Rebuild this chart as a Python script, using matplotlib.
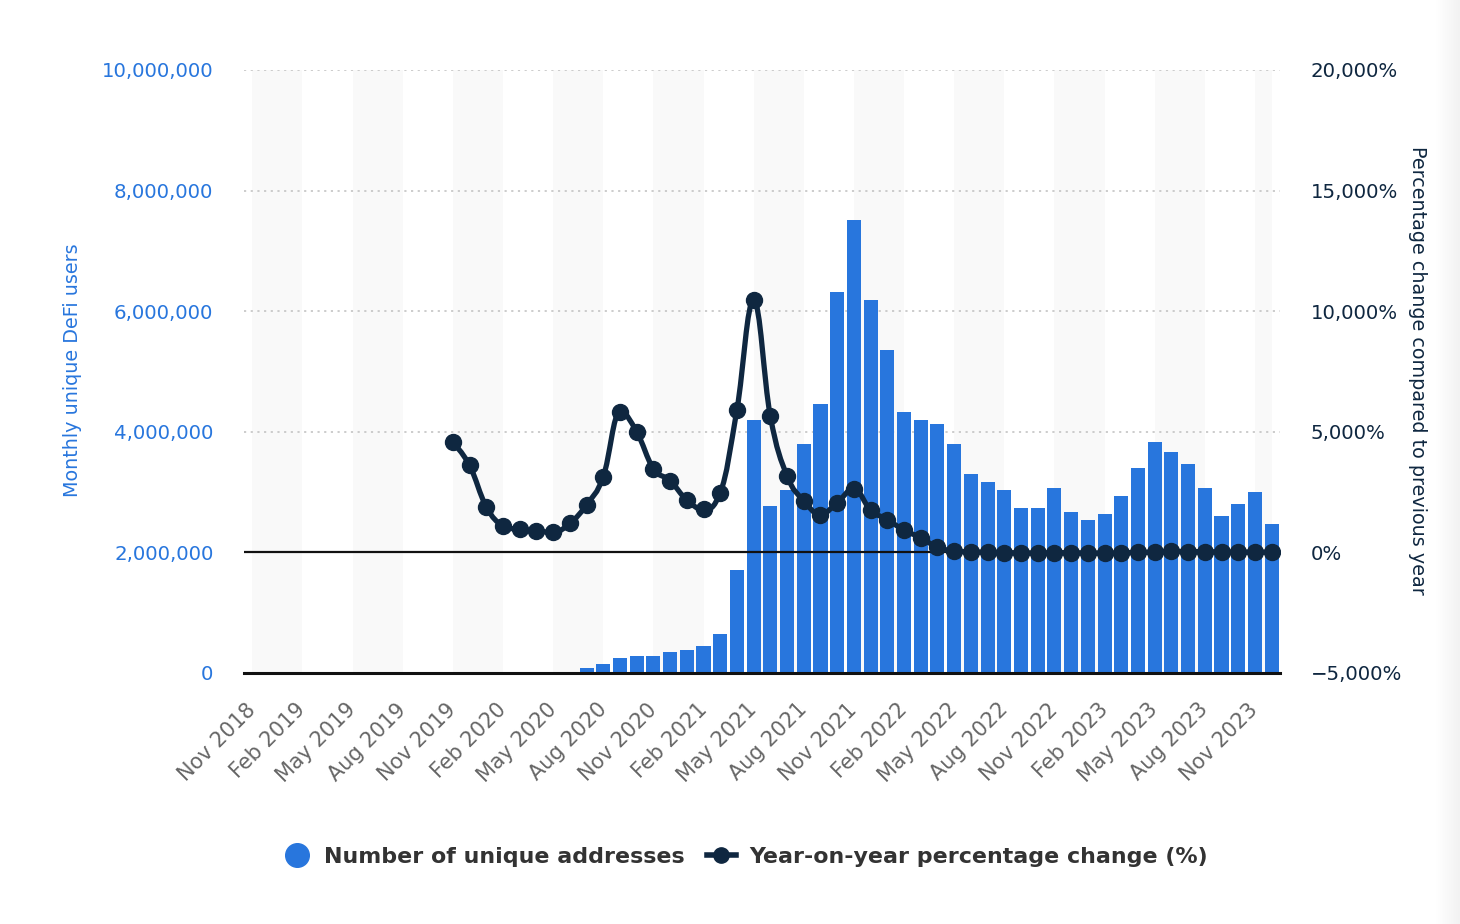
import matplotlib
matplotlib.use("Agg")
import matplotlib.pyplot as plt
import matplotlib.transforms as mtransforms
from matplotlib.path import Path
from matplotlib.patches import PathPatch
from matplotlib.lines import Line2D
from matplotlib.ticker import FuncFormatter, FixedLocator
import numpy as np

# ---------------- data ----------------
months = ["Nov 2018", "Dec 2018", "Jan 2019", "Feb 2019", "Mar 2019", "Apr 2019", "May 2019", "Jun 2019",
          "Jul 2019", "Aug 2019", "Sep 2019", "Oct 2019", "Nov 2019", "Dec 2019", "Jan 2020", "Feb 2020",
          "Mar 2020", "Apr 2020", "May 2020", "Jun 2020", "Jul 2020", "Aug 2020", "Sep 2020", "Oct 2020",
          "Nov 2020", "Dec 2020", "Jan 2021", "Feb 2021", "Mar 2021", "Apr 2021", "May 2021", "Jun 2021",
          "Jul 2021", "Aug 2021", "Sep 2021", "Oct 2021", "Nov 2021", "Dec 2021", "Jan 2022", "Feb 2022",
          "Mar 2022", "Apr 2022", "May 2022", "Jun 2022", "Jul 2022", "Aug 2022", "Sep 2022", "Oct 2022",
          "Nov 2022", "Dec 2022", "Jan 2023", "Feb 2023", "Mar 2023", "Apr 2023", "May 2023", "Jun 2023",
          "Jul 2023", "Aug 2023", "Sep 2023", "Oct 2023", "Nov 2023", "Dec 2023"]

unique_addresses = [0, 0, 0, 0, 0, 0, 0, 0,
                    0, 0, 0, 0, 0, 0, 0, 0,
                    0, 0, 0, 0, 83000, 150000, 250000, 280000,
                    280000, 350000, 380000, 450000, 650000, 1710000, 4200000, 2770000,
                    3035000, 3800000, 4460000, 6320000, 7510000, 6190000, 5360000, 4330000,
                    4200000, 4130000, 3800000, 3300000, 3170000, 3030000, 2740000, 2740000,
                    3070000, 2670000, 2540000, 2640000, 2940000, 3400000, 3830000, 3660000,
                    3470000, 3070000, 2600000, 2800000, 3000000, 2470000]

# year-on-year change (%) starting Nov 2019
yoy_start = 12
yoy_change = [4560, 3610, 1890, 1110, 950, 890, 830, 1200, 1975, 3140, 5830, 5000,
              3475, 2975, 2170, 1780, 2475, 5920, 10450, 5640, 3170, 2140, 1570, 2060,
              2640, 1750, 1360, 920, 610, 210, 60, 20, 10, -5, -20, -25,
              -10, -15, -25, -30, -20, 0, 10, 40, 35, 30, 20, 10, 15, 5]

tick_labels = months[::3]

# ---------------- style ----------------
BLUE = "#2876dd"
NAVY = "#0f2740"
GREY_TXT = "#666666"

plt.rcParams['font.family'] = ['DejaVu Sans']

fig = plt.figure(figsize=(14.6, 9.24), dpi=100)
ax = fig.add_axes([244 / 1460, 1 - 673 / 924, (1280 - 244) / 1460, (673 - 70) / 924])
ax2 = ax.twinx()

n = len(months)
x = np.arange(n)

# alternating bands
for s in range(0, n, 6):
    ax.axvspan(s, min(s + 3, n - 1), color="#f9f9f9", zorder=0, lw=0)

ax.set_xlim(-0.5, n - 0.5)
ax.set_ylim(0, 10_000_000)
ax2.set_ylim(-5000, 20000)

# grid lines
for v in [4e6, 6e6, 8e6, 10e6]:
    ax.axhline(v, color="#c8c8c8", lw=1.3, ls=(0, (1.2, 2.5)), zorder=1)

ax.bar(x, unique_addresses, width=0.84, color=BLUE, zorder=2)
ax.axhline(2e6, color="#111111", lw=1.6, zorder=3)
ax.axhline(0, color="#111111", lw=2.2, zorder=3, clip_on=False)

# spline line (Highcharts-like smoothing) through YoY values
xs = list(range(yoy_start, yoy_start + len(yoy_change)))
ys = list(yoy_change)
m = len(xs)
lc = [(xs[i], ys[i]) for i in range(m)]
rc = [(xs[i], ys[i]) for i in range(m)]
sm = 1.5
den = sm + 1
for i in range(1, m - 1):
    px, py = xs[i], ys[i]
    lx, ly = xs[i - 1], ys[i - 1]
    nx, ny = xs[i + 1], ys[i + 1]
    lcx = (sm * px + lx) / den
    lcy = (sm * py + ly) / den
    rcx = (sm * px + nx) / den
    rcy = (sm * py + ny) / den
    if rcx != lcx:
        corr = ((rcy - lcy) * (rcx - px)) / (rcx - lcx) + py - rcy
        lcy += corr
        rcy += corr
    if lcy > ly and lcy > py:
        lcy = max(ly, py)
        rcy = 2 * py - lcy
    elif lcy < ly and lcy < py:
        lcy = min(ly, py)
        rcy = 2 * py - lcy
    if rcy > ny and rcy > py:
        rcy = max(ny, py)
        lcy = 2 * py - rcy
    elif rcy < ny and rcy < py:
        rcy = min(ny, py)
        lcy = 2 * py - rcy
    lc[i] = (lcx, lcy)
    rc[i] = (rcx, rcy)

verts = [(xs[0], ys[0])]
codes = [Path.MOVETO]
for i in range(1, m):
    verts += [rc[i - 1], lc[i], (xs[i], ys[i])]
    codes += [Path.CURVE4] * 3
ax2.add_patch(PathPatch(Path(verts, codes), fill=False, edgecolor=NAVY, lw=3.8,
                        capstyle="round", joinstyle="round", zorder=4))
ax2.plot(xs, ys, "o", color=NAVY, ms=11.5, zorder=5)

# axes formatting
for a in (ax, ax2):
    for sp in a.spines.values():
        sp.set_visible(False)

ax.xaxis.set_major_locator(FixedLocator(list(range(0, n, 3))))
ax.set_xticklabels(tick_labels, rotation=45, ha="right", va="top", rotation_mode="anchor",
                   fontsize=15, color=GREY_TXT)
ax.tick_params(axis="x", length=0, pad=19)
shift = mtransforms.ScaledTranslation(-7 / 100, 0, fig.dpi_scale_trans)
for lab in ax.get_xticklabels():
    lab.set_transform(lab.get_transform() + shift)

ax.yaxis.set_major_locator(FixedLocator([0, 2e6, 4e6, 6e6, 8e6, 10e6]))
ax.yaxis.set_major_formatter(FuncFormatter(lambda v, p: f"{int(v):,}"))
ax.tick_params(axis="y", length=0, pad=22, labelsize=14.2, labelcolor=BLUE)

ax2.yaxis.set_major_locator(FixedLocator([-5000, 0, 5000, 10000, 15000, 20000]))
ax2.yaxis.set_major_formatter(FuncFormatter(lambda v, p: f"{int(v):,}%".replace("-", "\u2212")))
ax2.tick_params(axis="y", length=0, pad=22, labelsize=14.2, labelcolor=NAVY)

fig.text(73 / 1460, 1 - 370 / 924, "Monthly unique DeFi users", rotation=90, ha="center", va="center",
         fontsize=13.8, color=BLUE)
fig.text(1417 / 1460, 1 - 370 / 924, "Percentage change compared to previous year", rotation=270,
         ha="center", va="center", fontsize=13.8, color=NAVY)

# legend
handles = [Line2D([], [], ls="none", marker="o", ms=17, color=BLUE),
           Line2D([], [], ls="-", lw=4, marker="o", ms=11, color=NAVY)]
leg = fig.legend(handles, ["Number of unique addresses", "Year-on-year percentage change (%)"],
                 loc="center", bbox_to_anchor=(745 / 1460, 1 - 857 / 924), ncol=2, frameon=False,
                 handlelength=1.3, handletextpad=0.6, columnspacing=1.0,
                 prop={"weight": "bold", "size": 15.9})
for t in leg.get_texts():
    t.set_color("#333333")

# faint right edge shading
grad = np.linspace(0, 1, 50).reshape(1, -1)
gax = fig.add_axes([1436 / 1460, 0, 24 / 1460, 1])
gax.imshow(grad, aspect="auto", cmap=matplotlib.colors.LinearSegmentedColormap.from_list(
    "g", ["#ffffff", "#f2f2f2"]), extent=[0, 1, 0, 1])
gax.axis("off")

fig.savefig("out.png", dpi=100, facecolor="white")
